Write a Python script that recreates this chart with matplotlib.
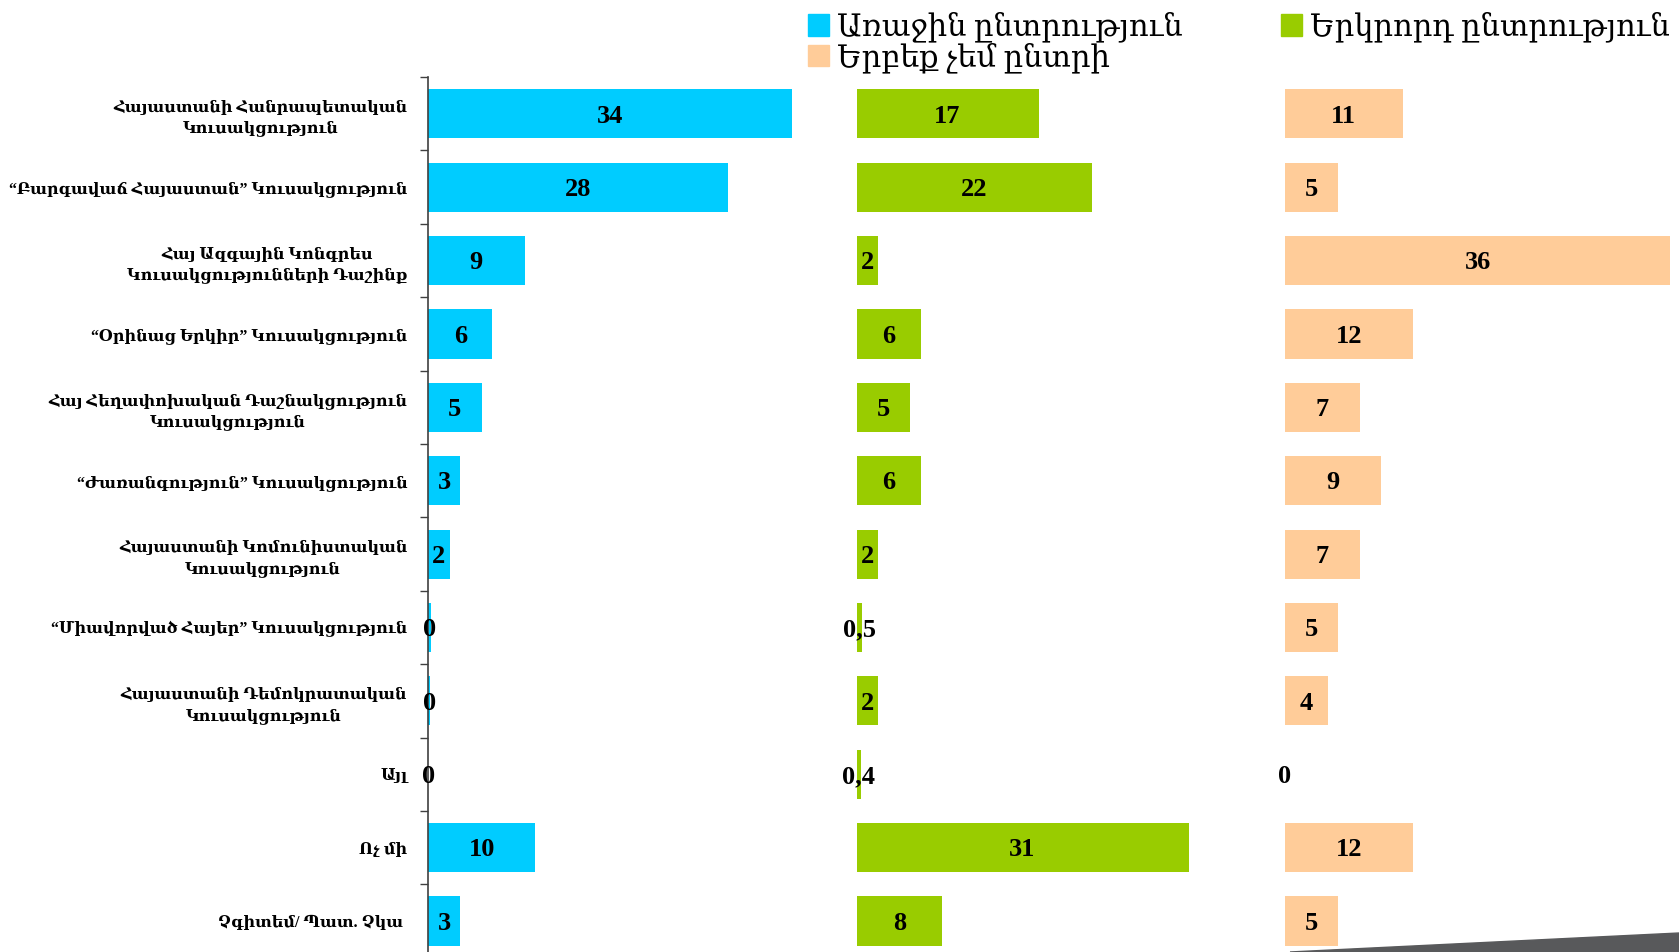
import matplotlib
matplotlib.use('Agg')
import matplotlib.pyplot as plt
from matplotlib.patches import Patch, Polygon
import numpy as np

categories = [
    "Հայաստանի Հանրապետական\nԿուսակցություն",
    "“Բարգավաճ Հայաստան” Կուսակցություն",
    "Հայ Ազգային Կոնգրես\nԿուսակցությունների Դաշինք",
    "“Օրինաց Երկիր” Կուսակցություն",
    "Հայ Հեղափոխական Դաշնակցություն\nԿուսակցություն",
    "“Ժառանգություն” Կուսակցություն",
    "Հայաստանի Կոմունիստական\nԿուսակցություն",
    "“Միավորված Հայեր” Կուսակցություն",
    "Հայաստանի Դեմոկրատական\nԿուսակցություն",
    "Այլ",
    "Ոչ մի",
    "Չգիտեմ/ Պատ. Չկա ",
]

first_choice = [34, 28, 9, 6, 5, 3, 2, 0.3, 0.2, 0, 10, 3]
second_choice = [17, 22, 2, 6, 5, 6, 2, 0.5, 2, 0.4, 31, 8]
never_vote = [11, 5, 36, 12, 7, 9, 7, 5, 4, 0, 12, 5]

first_labels = ["34", "28", "9", "6", "5", "3", "2", "0", "0", "0", "10", "3"]
second_labels = ["17", "22", "2", "6", "5", "6", "2", "0,5", "2", "0,4", "31", "8"]
never_labels = ["11", "5", "36", "12", "7", "9", "7", "5", "4", "0", "12", "5"]

series_names = ["Առաջին ընտրություն", "Երկրորդ ընտրություն", "Երբեք չեմ ընտրի"]
colors = ["#00CCFF", "#99CC00", "#FFCC99"]
offsets = [0, 40, 80]

label_font = ['Liberation Serif', 'DejaVu Serif']

fig = plt.figure(figsize=(16.79, 9.52), dpi=100)
ax = fig.add_axes([0.255, -0.006, 0.745, 0.925])

y = np.arange(len(categories))
series = [first_choice, second_choice, never_vote]
labels = [first_labels, second_labels, never_labels]

for vals, labs, col, off in zip(series, labels, colors, offsets):
    ax.barh(y, vals, left=off, height=0.67, color=col, edgecolor='none')
    for yi, v, t in zip(y, vals, labs):
        ax.text(off + v / 2, yi + 0.03, t, ha='center', va='center',
                fontsize=19, fontweight='bold', family=label_font, color='black')

ax.set_xlim(0, 116.8)
ax.set_ylim(len(categories) - 0.5, -0.5)

ax.set_yticks(y)
ax.set_yticklabels(categories, family=label_font, fontweight='bold',
                   fontsize=11.5, ha='right', multialignment='center',
                   linespacing=1.4)
ax.tick_params(axis='y', which='major', length=0, pad=15)
ax.set_yticks(np.arange(-0.5, len(categories), 1), minor=True)
ax.tick_params(axis='y', which='minor', length=6, width=1, color='#404040')
ax.set_xticks([])

for s in ['top', 'right', 'bottom']:
    ax.spines[s].set_visible(False)
ax.spines['left'].set_color('#404040')
ax.spines['left'].set_linewidth(1.2)

# legend: blue and peach in the first column, green in the second
handles = [Patch(color=colors[0]), Patch(color=colors[2]), Patch(color=colors[1])]
names = [series_names[0], series_names[2], series_names[1]]
fig.legend(handles, names, loc='upper left', bbox_to_anchor=(0.474, 1.0),
           ncol=2, frameon=False, prop={'family': label_font, 'size': 22},
           handlelength=0.7, handleheight=0.7, handletextpad=0.25,
           columnspacing=3.2, labelspacing=0.0, borderaxespad=0)

# grey slide decoration in the corner
wedge = Polygon([[1290 / 1679, 0], [1, 19 / 952], [1, 0]], closed=True,
                transform=fig.transFigure, color='#58595B', zorder=0)
fig.patches.append(wedge)

plt.savefig('out.png', dpi=100, facecolor='white')
